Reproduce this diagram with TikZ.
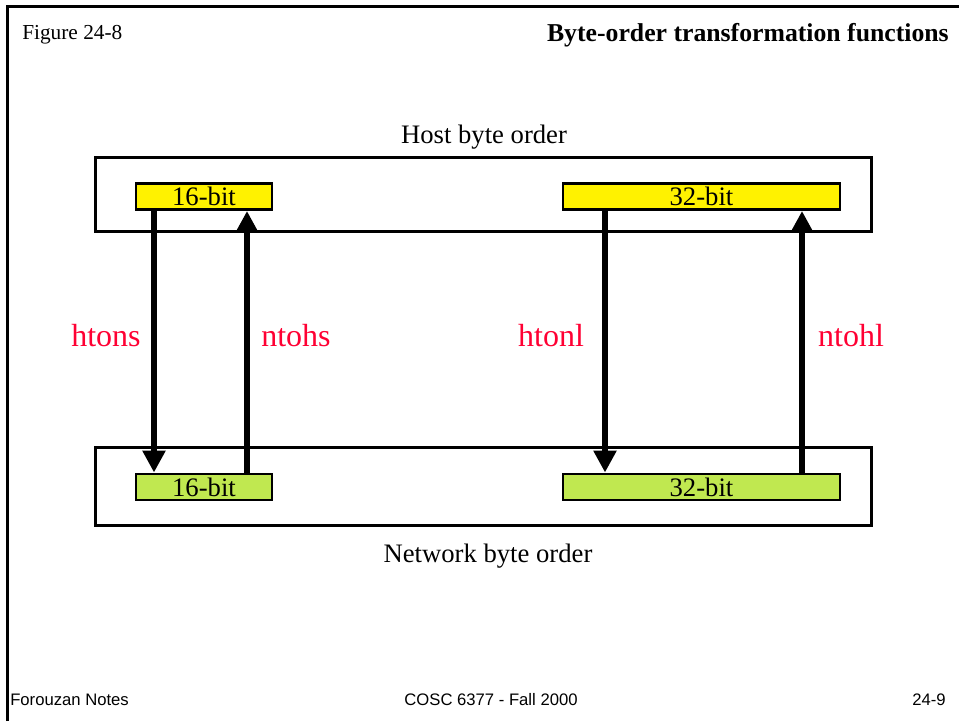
\documentclass[tikz,border=0pt]{standalone}
\usepackage{fontspec}
\setmainfont{Liberation Serif}
\newfontfamily\arialf{Liberation Sans}
\usetikzlibrary{arrows.meta}
\definecolor{lblred}{RGB}{255,0,51}
\definecolor{netgreen}{RGB}{192,232,80}
\def\u{0.75pt}
\tikzset{
  outerbox/.style={draw, line width=2.2pt, inner sep=0pt, fill=white},
  bitbox/.style={draw, line width=2.2pt, inner sep=0pt, minimum height=26*\u, font=\fontsize{20}{22}\selectfont},
  hostbit/.style={bitbox, fill=yellow},
  netbit/.style={bitbox, fill=netgreen},
  conv/.style={line width=4.5pt, -{Triangle[width=16.5pt,length=16.5pt]}},
  fnlabel/.style={anchor=base, inner sep=0pt, text=lblred, font=\fontsize{24}{28}\selectfont},
  plain/.style={anchor=base, inner sep=0pt, font=\fontsize{20}{24}\selectfont},
  foot/.style={inner sep=0pt, font=\arialf\fontsize{12.5}{14}\selectfont}
}
\begin{document}
\begin{tikzpicture}[x=0.75pt, y=-0.75pt]
\useasboundingbox (0,0) rectangle (959,721);
% page frame
\draw[line width=2.4pt] (7.5,721) -- (7.5,6.5) -- (959,6.5);
% header
\node[anchor=base west, inner sep=0pt, font=\fontsize{16}{18}\selectfont] (fig) at (22,39) {Figure 24-8};
\node[anchor=base east, inner sep=0pt, font=\bfseries\fontsize{19.3}{22}\selectfont] (title) at (949,41) {Byte-order transformation functions};
% outer boxes
\node[outerbox, minimum width=776*\u, minimum height=74*\u] (host) at (483.5,194.4) {};
\node[outerbox, minimum width=776*\u, minimum height=78*\u] (net) at (483.5,486.5) {};
\node[plain] (hostlbl) at (484,143) {Host byte order};
\node[plain] (netlbl) at (488,562) {Network byte order};
% bit boxes
\node[hostbit, minimum width=136*\u] (h16) at (204,196.5) {16-bit};
\node[hostbit, minimum width=277*\u] (h32) at (701.5,196.5) {32-bit};
\node[netbit, minimum width=136*\u] (n16) at (204,487) {16-bit};
\node[netbit, minimum width=277*\u] (n32) at (701.5,487) {32-bit};
% arrow x positions
\coordinate (xa) at (154,0);
\coordinate (xb) at (247,0);
\coordinate (xc) at (605,0);
\coordinate (xd) at (802,0);
\draw[conv] (h16.south -| xa) -- (n16.north -| xa);
\draw[conv] (n16.north -| xb) -- (h16.south -| xb);
\draw[conv] (h32.south -| xc) -- (n32.north -| xc);
\draw[conv] (n32.north -| xd) -- (h32.south -| xd);
% labels
\node[fnlabel] (l1) at (106,346) {htons};
\node[fnlabel] (l2) at (296,346) {ntohs};
\node[fnlabel] (l3) at (551,346) {htonl};
\node[fnlabel] (l4) at (851,346) {ntohl};
% footer
\node[foot, anchor=base west] (f1) at (10,705) {Forouzan Notes};
\node[foot, anchor=base] (f2) at (491,705) {COSC 6377 - Fall 2000};
\node[foot, anchor=base east] (f3) at (946,705) {24-9};
\end{tikzpicture}
\end{document}
